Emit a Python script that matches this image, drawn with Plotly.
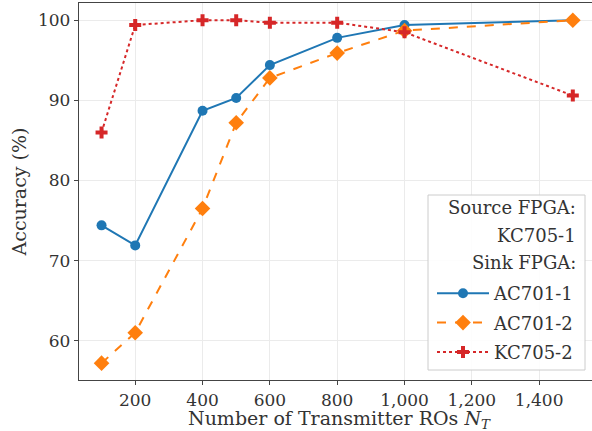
import plotly.graph_objects as go

n_t = [100, 200, 400, 500, 600, 800, 1000, 1500]
ac701_1 = [74.4, 71.9, 88.7, 90.3, 94.4, 97.8, 99.4, 100.0]
ac701_2 = [57.2, 61.0, 76.5, 87.2, 92.8, 95.9, 98.7, 100.0]
kc705_2 = [86.0, 99.4, 100.0, 100.0, 99.7, 99.7, 98.5, 90.6]

x_ticks = [200, 400, 600, 800, 1000, 1200, 1400]
x_ticktext = ["200", "400", "600", "800", "1,000", "1,200", "1,400"]
y_ticks = [60, 70, 80, 90, 100]
legend_header = ["Source FPGA:", "KC705-1", "Sink FPGA:"]
x_title = "Number of Transmitter ROs <i>N</i><sub><i>T</i></sub>"
y_title = "Accuracy (%)"

FONT = "DejaVu Serif"
TXT = "#333333"

# page geometry (plot area)
L, R, T, B = 79, 592, 3, 380
W, H = 592, 431
PW, PH = R - L, B - T

def px(x):
    return (x - L) / PW

def py(y):
    return (B - y) / PH

fig = go.Figure()
fig.add_trace(go.Scatter(x=n_t, y=ac701_1, name="AC701-1", mode="lines+markers", legendgroup="a",
                         line=dict(color="#1f77b4", width=2, dash="solid"),
                         marker=dict(symbol="circle", size=10, color="#1f77b4")))
fig.add_trace(go.Scatter(x=n_t, y=ac701_2, name="AC701-2", mode="lines+markers", legendgroup="b",
                         line=dict(color="#ff7f0e", width=2, dash="dash"),
                         marker=dict(symbol="diamond", size=12, color="#ff7f0e")))
fig.add_trace(go.Scatter(x=n_t, y=kc705_2, name="KC705-2", mode="lines+markers", legendgroup="c",
                         line=dict(color="#d62728", width=2, dash="dot"),
                         marker=dict(symbol="cross", size=10, color="#d62728")))

# legend box
fig.add_shape(type="rect", xref="paper", yref="paper",
              x0=px(428), x1=px(585), y0=py(370), y1=py(195),
              fillcolor="rgba(255,255,255,0.9)", line=dict(color="#cccccc", width=1),
              layer="above")

for i, txt in enumerate(legend_header):
    fig.add_annotation(text=txt, xref="paper", yref="paper",
                       x=px(578), y=py(208 + 27 * i), xanchor="right", yanchor="middle",
                       showarrow=False, font=dict(family=FONT, size=18, color=TXT))

# x axis title
fig.add_annotation(text=x_title, xref="paper", yref="paper",
                   x=px(339), y=py(420), xanchor="center", yanchor="middle",
                   showarrow=False, font=dict(family=FONT, size=19, color=TXT))

fig.update_layout(
    width=W, height=H,
    margin=dict(l=L, r=W - R, t=T, b=H - B),
    paper_bgcolor="white", plot_bgcolor="white",
    font=dict(family=FONT, size=17, color=TXT),
    legend=dict(
        x=px(432), xanchor="left", y=py(275), yanchor="top",
        bgcolor="rgba(0,0,0,0)", borderwidth=0,
        font=dict(family=FONT, size=18, color=TXT),
        itemwidth=52, tracegroupgap=3,
    ),
    xaxis=dict(
        range=[33, 1557], tickvals=x_ticks, ticktext=x_ticktext,
        showgrid=True, gridcolor="#ebebeb", gridwidth=1, zeroline=False,
        showline=True, linecolor="#444444", linewidth=1.3, mirror=True,
        ticks="outside", ticklen=4, tickcolor="#444444",
        tickfont=dict(family=FONT, size=17, color=TXT),
    ),
    yaxis=dict(
        range=[55.1, 102.15], tickvals=y_ticks,
        showgrid=True, gridcolor="#ebebeb", gridwidth=1, zeroline=False,
        showline=True, linecolor="#444444", linewidth=1.3, mirror=False,
        ticks="outside", ticklen=4, tickcolor="#444444",
        tickfont=dict(family=FONT, size=17, color=TXT),
        title=dict(text=y_title, font=dict(family=FONT, size=19, color=TXT), standoff=6),
    ),
)

fig.write_html("out.html", config={"displayModeBar": False},
               post_script="document.body.style.margin='0';")
